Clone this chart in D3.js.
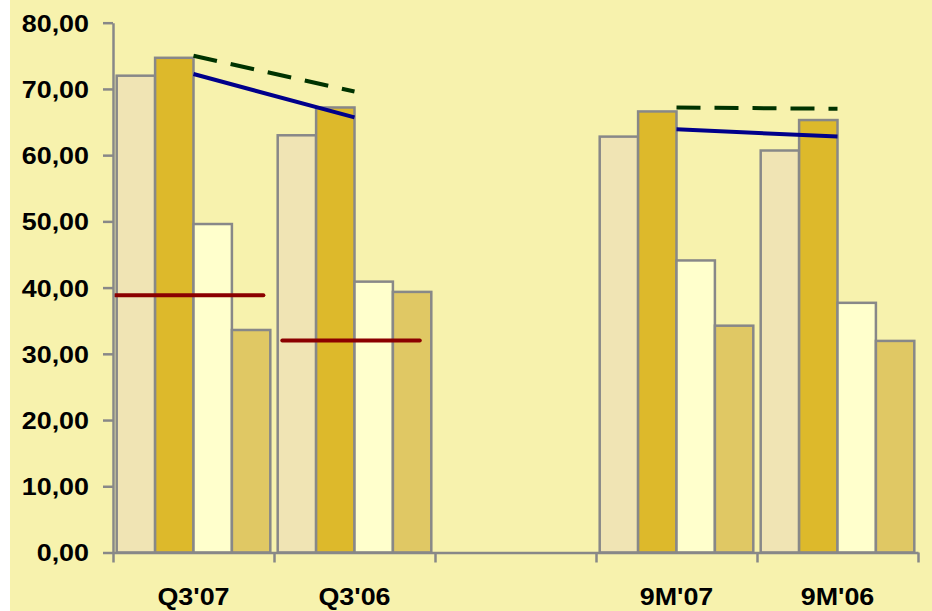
<!DOCTYPE html>
<html>
<head>
<meta charset="utf-8">
<script src="https://cdn.jsdelivr.net/npm/d3@7"></script>
<style>
  html, body { margin: 0; padding: 0; background: #ffffff; }
  svg { display: block; }
  text { font-family: "Liberation Sans", Arial, sans-serif; font-weight: bold; fill: #000; }
</style>
</head>
<body>
<svg id="chart" width="932" height="611"></svg>
<script>
// Period labels (the third slot is an empty spacer between the quarter and nine-month blocks)
const categories = ["Q3'07", "Q3'06", "", "9M'07", "9M'06"];
const yTicks = [0, 10, 20, 30, 40, 50, 60, 70, 80];

// Bar series, one value per period
const seriesA = [72.0, 63.0, null, 62.8, 60.7];
const seriesB = [74.7, 67.2, null, 66.6, 65.3];
const seriesC = [49.6, 40.9, null, 44.1, 37.7];
const seriesD = [33.6, 39.35, null, 34.25, 31.95];

// Trend lines across the periods
const blueLine  = [72.25, 65.7, null, 63.9, 62.8];
const greenLine = [75.0, 69.6, null, 67.2, 67.0];

// Reference levels for the quarter periods
const redLevels = [38.85, 32.0, null, null, null];

const barColors = ["#F0E4B4", "#DDB92B", "#FFFFCC", "#E0C864"];
const bars = [seriesA, seriesB, seriesC, seriesD];

const svg = d3.select("#chart");
const W = 932, H = 611;
const mLeft = 113, mRight = 918, mTop = 22.7, mBottom = 552.5;

svg.append("rect").attr("x", 10).attr("y", 0).attr("width", W - 10).attr("height", H)
  .attr("fill", "#F7F2AD");

const idx = d3.range(categories.length);
const x = d3.scaleBand().domain(idx).range([mLeft, mRight]).paddingInner(0.046).paddingOuter(0.023);
const xEdge = d3.scaleLinear().domain([0, categories.length]).range([mLeft, mRight]);
const xInner = d3.scaleBand().domain(d3.range(bars.length)).range([0, x.bandwidth()]);
const y = d3.scaleLinear().domain([0, 80]).range([mBottom, mTop]);

// Bars
const groups = svg.append("g").selectAll("g")
  .data(idx.filter(i => seriesA[i] != null))
  .join("g")
  .attr("transform", i => `translate(${x(i)},0)`);

groups.selectAll("rect")
  .data(i => bars.map((s, k) => ({ k, v: s[i] })))
  .join("rect")
  .attr("x", d => xInner(d.k))
  .attr("width", xInner.bandwidth())
  .attr("y", d => y(d.v))
  .attr("height", d => y(0) - y(d.v))
  .attr("fill", d => barColors[d.k])
  .attr("stroke", "#888888")
  .attr("stroke-width", 2.5);

// Reference level segments
const redSpans = [[-0.01, 0.955], [0.03, 0.925]];
svg.append("g").selectAll("line")
  .data(idx.filter(i => redLevels[i] != null))
  .join("line")
  .attr("x1", (i, n) => x(i) + redSpans[n][0] * x.bandwidth())
  .attr("x2", (i, n) => x(i) + redSpans[n][1] * x.bandwidth())
  .attr("y1", i => y(redLevels[i]))
  .attr("y2", i => y(redLevels[i]))
  .attr("stroke", "#8B0000")
  .attr("stroke-width", 4)
  .attr("stroke-linecap", "round");

// Trend lines between period centres
const line = d3.line()
  .defined(d => d.v != null)
  .x(d => x(d.i) + x.bandwidth() / 2)
  .y(d => y(d.v));

svg.append("path")
  .datum(greenLine.map((v, i) => ({ i, v })))
  .attr("d", line)
  .attr("fill", "none")
  .attr("stroke", "#003300")
  .attr("stroke-width", 4)
  .attr("stroke-dasharray", "24,14");

svg.append("path")
  .datum(blueLine.map((v, i) => ({ i, v })))
  .attr("d", line)
  .attr("fill", "none")
  .attr("stroke", "#00008B")
  .attr("stroke-width", 4);

// Y axis
const stretch = 1.12;
const yAxis = svg.append("g")
  .attr("transform", `translate(${mLeft},0)`)
  .call(d3.axisLeft(y).tickValues(yTicks).tickSize(10).tickSizeOuter(0)
    .tickFormat(d => d3.format(".2f")(d).replace(".", ",")));
yAxis.select(".domain").attr("stroke", "#888888").attr("stroke-width", 2.5);
yAxis.selectAll(".tick line").attr("stroke", "#888888").attr("stroke-width", 2.5);
yAxis.selectAll(".tick text")
  .attr("x", -24 / stretch)
  .attr("dy", "0.35em")
  .attr("transform", `scale(${stretch},1)`)
  .style("font-size", "24px");

// X axis: ticks on period boundaries, labels at period centres
const xAxis = svg.append("g")
  .attr("transform", `translate(0,${mBottom})`)
  .call(d3.axisBottom(xEdge).tickValues(d3.range(categories.length + 1)).tickSize(10)
    .tickSizeOuter(0).tickFormat(""));
xAxis.select(".domain").attr("stroke", "#888888").attr("stroke-width", 2.5);
xAxis.selectAll(".tick line").attr("stroke", "#888888").attr("stroke-width", 2.5);

svg.append("g").selectAll("text")
  .data(idx.filter(i => categories[i] !== ""))
  .join("text")
  .attr("transform", i => `translate(${x(i) + x.bandwidth() / 2},${mBottom + 52}) scale(${stretch},1)`)
  .attr("text-anchor", "middle")
  .style("font-size", "24px")
  .text(i => categories[i]);
</script>
</body>
</html>
